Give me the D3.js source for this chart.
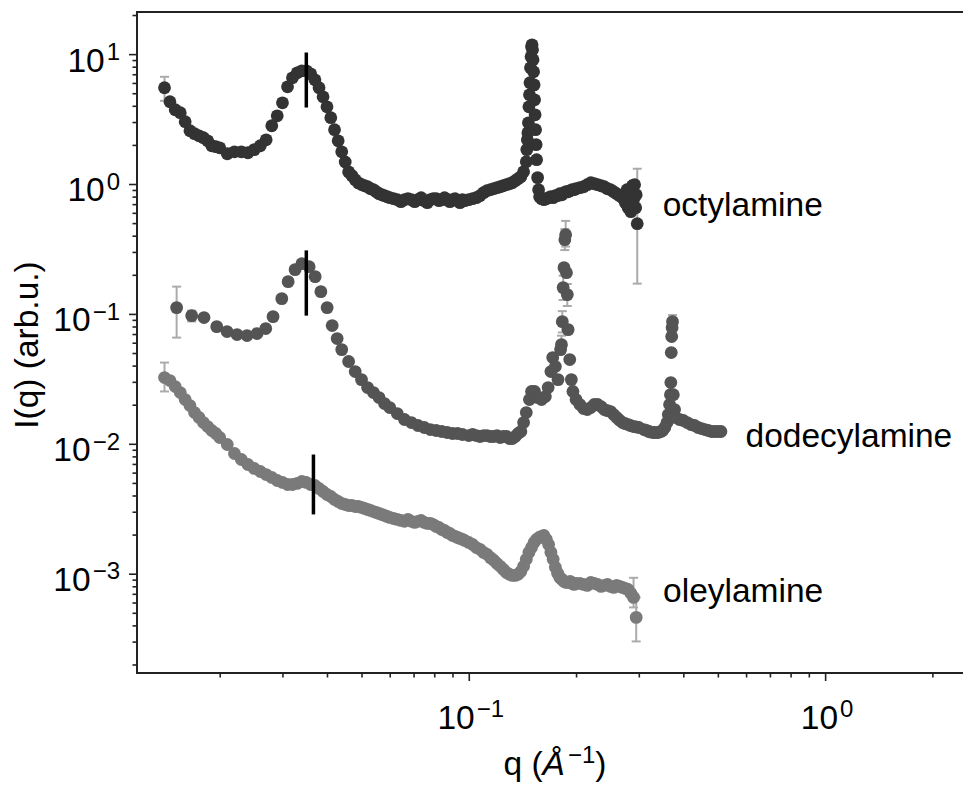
<!DOCTYPE html>
<html lang="en">
<head>
<meta charset="UTF-8">
<title>SAXS of amine-capped samples</title>
<script src="https://d3js.org/d3.v7.min.js"></script>
<style>
  body { margin: 0; background: #fff; }
  svg { display: block; font-family: "Liberation Sans", Arial, sans-serif; }
</style>
</head>
<body>
<div id="chart"></div>
<script>
// ---- data ----
const qOct = [0.014, 0.0145, 0.015, 0.0155, 0.016, 0.0165, 0.017, 0.0175, 0.018, 0.0185, 0.019, 0.0195, 0.020,
  0.021, 0.022, 0.023, 0.024, 0.025, 0.026, 0.027, 0.028, 0.029, 0.030, 0.031, 0.032, 0.033, 0.034, 0.035, 0.036,
  0.037, 0.038, 0.039, 0.040,
  0.041, 0.042, 0.043, 0.044, 0.045, 0.046, 0.047, 0.048, 0.049, 0.050, 0.051, 0.052, 0.053, 0.054, 0.055, 0.056,
  0.057, 0.058, 0.059, 0.060,
  0.0615, 0.063, 0.0645, 0.066, 0.0675, 0.069, 0.0705, 0.072, 0.0735, 0.075, 0.0765, 0.078, 0.0795, 0.081, 0.0825,
  0.084, 0.0855, 0.087, 0.0885, 0.090, 0.0915, 0.093, 0.0945, 0.096, 0.0975,
  0.100, 0.1025, 0.105, 0.1075, 0.110, 0.1125, 0.115, 0.1175, 0.120, 0.1225, 0.125, 0.1275, 0.130, 0.1325, 0.135,
  0.1375, 0.140, 0.1425, 0.145,
  0.1455, 0.146, 0.1465, 0.147, 0.1475, 0.148, 0.1485, 0.149, 0.1495, 0.150, 0.1505, 0.151, 0.1515, 0.152, 0.1525,
  0.153, 0.1535, 0.154, 0.1545, 0.155, 0.156, 0.157, 0.158,
  0.160, 0.1625, 0.165, 0.1675, 0.170, 0.1725, 0.175, 0.1775, 0.180, 0.1825, 0.185, 0.1875, 0.190, 0.1925, 0.195,
  0.1975, 0.200,
  0.205, 0.210, 0.215, 0.220, 0.225, 0.230, 0.235, 0.240, 0.245, 0.250, 0.255, 0.260, 0.265, 0.270, 0.275, 0.278,
  0.280, 0.283, 0.285, 0.288, 0.290, 0.292, 0.294, 0.295, 0.297];
const iOct = [5.51, 4.30, 3.73, 3.54, 3.02, 2.57, 2.44, 2.35, 2.27, 2.15, 1.97, 1.94, 1.90,
  1.71, 1.77, 1.77, 1.74, 1.84, 1.97, 2.19, 2.81, 3.35, 4.22, 5.60, 6.57, 7.18, 7.44, 7.44, 7.05,
  6.34, 5.51, 4.69, 3.93,
  3.24, 2.62, 2.15, 1.77, 1.48, 1.24, 1.16, 1.08, 1.02, 0.99, 0.970, 0.953, 0.920, 0.904, 0.872, 0.842,
  0.827, 0.813, 0.799, 0.785,
  0.771, 0.757, 0.731, 0.757, 0.771, 0.757, 0.731, 0.757, 0.785, 0.744, 0.718, 0.757, 0.771, 0.771, 0.744,
  0.757, 0.785, 0.757, 0.731, 0.757, 0.771, 0.744, 0.718, 0.757, 0.744,
  0.757, 0.771, 0.785, 0.813, 0.857, 0.888, 0.904, 0.920, 0.937, 0.953, 0.970, 0.988, 1.005, 1.023, 1.060,
  1.098, 1.138, 1.243, 1.484,
  1.84, 2.19, 2.48, 2.96, 3.93, 4.86, 6.02, 7.85, 9.53, 11.38, 11.79, 10.79, 9.04, 7.31, 5.80,
  4.45, 3.41, 2.62, 2.01, 1.54, 1.12, 0.904, 0.799,
  0.771, 0.757, 0.771, 0.785, 0.799, 0.785, 0.813, 0.813, 0.842, 0.827, 0.857, 0.872, 0.872, 0.888, 0.904,
  0.904, 0.920,
  0.937, 0.953, 0.988, 1.023, 1.005, 0.988, 0.970, 0.953, 0.920, 0.904, 0.872, 0.842, 0.813, 0.785, 0.718, 0.904,
  0.657, 0.813, 0.612, 0.970, 0.757, 0.988, 0.657, 0.827, 0.495];

const qDod = [0.01514, 0.01669, 0.01807, 0.01962, 0.02097, 0.02237, 0.02386, 0.02546, 0.02693, 0.02823,
  0.02987, 0.03112, 0.03255, 0.0340, 0.03565, 0.03706, 0.03845, 0.04004, 0.04137, 0.04272,
  0.044, 0.046, 0.048, 0.050, 0.052, 0.054, 0.056, 0.058, 0.060,
  0.063, 0.066, 0.069, 0.072, 0.075, 0.078, 0.081, 0.084, 0.087, 0.090, 0.093, 0.096,
  0.100, 0.1025, 0.105, 0.1075, 0.110, 0.1125, 0.115, 0.1175, 0.120, 0.1225, 0.125, 0.1275, 0.130, 0.1325, 0.135,
  0.1375, 0.140, 0.1425, 0.145,
  0.148, 0.150, 0.153, 0.156, 0.160, 0.164, 0.167, 0.170, 0.172, 0.175, 0.178, 0.181,
  0.182, 0.183, 0.184, 0.185, 0.186, 0.187, 0.188, 0.189, 0.190, 0.192, 0.194, 0.196,
  0.200, 0.205, 0.210, 0.215, 0.220, 0.225, 0.230, 0.235, 0.240, 0.245, 0.250, 0.255, 0.260, 0.265, 0.270, 0.275,
  0.280, 0.285, 0.290, 0.295, 0.300,
  0.31, 0.315, 0.32, 0.325, 0.33, 0.335, 0.34, 0.345, 0.35, 0.355, 0.36, 0.363, 0.366, 0.368, 0.369, 0.370, 0.371,
  0.372, 0.373, 0.375, 0.378, 0.38,
  0.39, 0.40, 0.41, 0.42, 0.43, 0.44, 0.45, 0.46, 0.47, 0.48, 0.49, 0.50, 0.51];
const iDod = [0.1118, 0.0970, 0.0937, 0.0798, 0.0731, 0.0693, 0.0681, 0.0706, 0.0771, 0.0953,
  0.1311, 0.1772, 0.2192, 0.2437, 0.2311, 0.1936, 0.1484, 0.1118, 0.0813, 0.0646,
  0.0531, 0.0430, 0.0360, 0.0312, 0.0271, 0.0248, 0.0227, 0.0204, 0.0190,
  0.0171, 0.01538, 0.01458, 0.01383, 0.01335, 0.01288, 0.01266, 0.01244, 0.01222, 0.0120, 0.0120, 0.01179,
  0.01158, 0.01179, 0.01158, 0.01138, 0.01158, 0.01158, 0.01138, 0.01138, 0.01158, 0.01118, 0.01138, 0.01138, 0.01099,
  0.01099, 0.01138, 0.0120, 0.01244, 0.01458, 0.0174,
  0.0219, 0.0253, 0.0253, 0.0227, 0.0219, 0.0231, 0.0271, 0.0360, 0.0461, 0.0393, 0.0312, 0.0531,
  0.0580, 0.0872, 0.1594, 0.2271, 0.3728, 0.4074, 0.2078, 0.1408, 0.0757, 0.0445, 0.0312, 0.0253,
  0.0219, 0.02006, 0.01868, 0.01835, 0.0190, 0.0201, 0.0201, 0.01936, 0.01835, 0.0180, 0.01772, 0.0168, 0.01594,
  0.0152, 0.01458, 0.0143, 0.01407, 0.0138, 0.01358, 0.0135, 0.01335,
  0.01288, 0.0127, 0.01244, 0.0123, 0.01222, 0.0122, 0.01222, 0.0124, 0.01266, 0.01335, 0.01458, 0.0168, 0.0201,
  0.0239, 0.0296, 0.0504, 0.0669, 0.0784, 0.0872, 0.0239, 0.01835, 0.01594,
  0.01538, 0.01511, 0.01458, 0.01407, 0.01383, 0.01335, 0.01311, 0.01288, 0.01266, 0.01244, 0.01244, 0.01244, 0.01244];

const qOle = [0.014, 0.0145, 0.015, 0.0155, 0.016, 0.0165, 0.017, 0.0175, 0.018, 0.0185, 0.019, 0.0195, 0.020,
  0.021, 0.022, 0.023, 0.024, 0.025, 0.026, 0.027, 0.028, 0.029, 0.030, 0.031, 0.032, 0.033, 0.034, 0.035, 0.036,
  0.037, 0.038, 0.039, 0.040,
  0.041, 0.042, 0.043, 0.044, 0.045, 0.046, 0.047, 0.048, 0.049, 0.050, 0.051, 0.052, 0.053, 0.054, 0.055, 0.056,
  0.057, 0.058, 0.059, 0.060,
  0.0615, 0.063, 0.0645, 0.066, 0.0675, 0.069, 0.0705, 0.072, 0.0735, 0.075, 0.0765, 0.078, 0.0795, 0.081, 0.0825,
  0.084, 0.0855, 0.087, 0.0885, 0.090, 0.0915, 0.093, 0.0945, 0.096, 0.0975,
  0.100, 0.1025, 0.105, 0.1075, 0.110, 0.1125, 0.115, 0.1175, 0.120, 0.1225, 0.125, 0.1275, 0.130, 0.1325, 0.135,
  0.1375, 0.140, 0.1425, 0.145, 0.1475, 0.150, 0.1525, 0.155, 0.1575, 0.160, 0.1625, 0.165, 0.1675, 0.170, 0.1725,
  0.175, 0.1775, 0.180, 0.1825, 0.185, 0.1875, 0.190, 0.1925, 0.195, 0.1975, 0.200,
  0.205, 0.210, 0.215, 0.220, 0.225, 0.230, 0.235, 0.240, 0.245, 0.250, 0.255, 0.260, 0.265, 0.270, 0.275, 0.280,
  0.285, 0.290, 0.295];
const iOle = [0.03236, 0.03069, 0.02759, 0.0248, 0.0219, 0.0197, 0.0174, 0.01594, 0.01458, 0.01358, 0.01266, 0.0120, 0.01118,
  0.00988, 0.00842, 0.00757, 0.00693, 0.00646, 0.00612, 0.00580, 0.00551, 0.00522, 0.00504, 0.00486, 0.00486, 0.00495,
  0.00513, 0.00504, 0.00486, 0.00478, 0.00453, 0.00430, 0.00407,
  0.00393, 0.00373, 0.00360, 0.00347, 0.00341, 0.00335, 0.00335, 0.00329, 0.00329, 0.00324, 0.00318, 0.00312, 0.00307,
  0.00301, 0.00296, 0.00291, 0.00286, 0.00281, 0.00276, 0.00271,
  0.00266, 0.00262, 0.00257, 0.00253, 0.00262, 0.00253, 0.00248, 0.00253, 0.00257, 0.00248, 0.00244, 0.00244, 0.00239,
  0.00231, 0.00227, 0.00219, 0.00215, 0.00208, 0.00204, 0.00197, 0.00194, 0.00190, 0.00187, 0.00184, 0.00180,
  0.00174, 0.00168, 0.00159, 0.00154, 0.00146, 0.00141, 0.00133, 0.00127, 0.00120, 0.00114, 0.00108, 0.00102, 0.00099,
  0.00097, 0.00097, 0.00099, 0.00104, 0.00114, 0.00129, 0.00146, 0.00159, 0.00174, 0.00184, 0.00190, 0.00194, 0.00197,
  0.00184, 0.00168, 0.00146, 0.00129, 0.00112, 0.00101, 0.000937, 0.000904, 0.000873, 0.000857, 0.000857, 0.000873,
  0.000842, 0.000827, 0.000842,
  0.000842, 0.000827, 0.000813, 0.000857, 0.000842, 0.000827, 0.000799, 0.000813, 0.000827, 0.000799, 0.000785,
  0.000813, 0.000799, 0.000785, 0.000771, 0.000757, 0.000706, 0.000657, 0.000461];

// error bars: [q, low, high]
const errOct = [[0.014, 4.37, 6.69], [0.290, 0.62, 1.06], [0.297, 0.171, 1.311]];
const errDod = [[0.01514, 0.0657, 0.1622], [0.01669, 0.0875, 0.106], [0.182, 0.050, 0.068], [0.183, 0.072, 0.105],
  [0.184, 0.128, 0.197], [0.186, 0.31, 0.45], [0.187, 0.33, 0.52], [0.189, 0.115, 0.17], [0.373, 0.075, 0.098]];
const errOle = [[0.014, 0.0253, 0.0422], [0.290, 0.00055, 0.00093], [0.295, 0.000301, 0.000657]];

// vertical peak markers
const peakQ = [0.0350, 0.0350, 0.03665];
const peakLo = [3.88, 0.0970, 0.00286];
const peakHi = [10.29, 0.3084, 0.00827];

const names = ["octylamine", "dodecylamine", "oleylamine"];
const labelQ = [0.35, 0.598, 0.351];
const labelI = [0.693, 0.01158, 0.00073];
const colors = ["#333333", "#545454", "#7a7a7a"];

const yMajor = [1e-3, 1e-2, 1e-1, 1, 10];
const yExp = ["\u22123", "\u22122", "\u22121", "0", "1"];
const xMajor = [0.1, 1];
const xExp = ["\u22121", "0"];

// ---- chart ----
const width = 963, height = 786;
const svg = d3.select("#chart").append("svg")
  .attr("width", width)
  .attr("height", height);

const x = d3.scaleLog().domain([0.01172, 2.6]).range([137, 973]);
const y = d3.scaleLog().domain([1.72e-4, 21.1]).range([673, 12]);

const minorX = [], minorY = [];
[0.01, 0.1, 1].forEach(d => { for (let k = 2; k < 10; k++) { const v = k * d; if (v > x.domain()[0] && v < x.domain()[1]) minorX.push(v); } });
[1e-4, 1e-3, 1e-2, 1e-1, 1, 10].forEach(d => { for (let k = 2; k < 10; k++) { const v = k * d; if (v > y.domain()[0] && v < y.domain()[1]) minorY.push(v); } });

const series = [
  { q: qOct, i: iOct, err: errOct },
  { q: qDod, i: iDod, err: errDod },
  { q: qOle, i: iOle, err: errOle }
];

// error bars first, markers on top
series.forEach(s => {
  const g = svg.append("g").attr("stroke", "#ababab").attr("stroke-width", 2);
  s.err.forEach(e => {
    const cx = x(e[0]);
    g.append("line").attr("x1", cx).attr("x2", cx).attr("y1", y(e[1])).attr("y2", y(e[2]));
    g.append("line").attr("x1", cx - 4.5).attr("x2", cx + 4.5).attr("y1", y(e[1])).attr("y2", y(e[1]));
    g.append("line").attr("x1", cx - 4.5).attr("x2", cx + 4.5).attr("y1", y(e[2])).attr("y2", y(e[2]));
  });
});

series.forEach((s, k) => {
  svg.append("g").selectAll("circle")
    .data(s.q.map((q, j) => [q, s.i[j]]))
    .join("circle")
    .attr("cx", d => x(d[0]))
    .attr("cy", d => y(d[1]))
    .attr("r", 6.4)
    .attr("fill", colors[k]);
});

// peak position bars
svg.append("g").selectAll("line")
  .data(peakQ)
  .join("line")
  .attr("x1", d => x(d)).attr("x2", d => x(d))
  .attr("y1", (d, j) => y(peakHi[j]))
  .attr("y2", (d, j) => y(peakLo[j]))
  .attr("stroke", "#000")
  .attr("stroke-width", 3.5);

// series labels
svg.append("g").selectAll("text")
  .data(names)
  .join("text")
  .attr("x", (d, j) => x(labelQ[j]))
  .attr("y", (d, j) => y(labelI[j]) + 11)
  .attr("font-size", 33.5)
  .attr("fill", "#000")
  .text(d => d);

// axes
const axY = svg.append("g").attr("transform", "translate(137,0)");
axY.call(d3.axisLeft(y).tickValues(yMajor).tickSize(8).tickFormat(() => ""));
axY.call(g => g.select(".domain").remove());
const axYm = svg.append("g").attr("transform", "translate(137,0)");
axYm.call(d3.axisLeft(y).tickValues(minorY).tickSize(4.5).tickFormat(() => ""));
axYm.call(g => g.select(".domain").remove());

const axX = svg.append("g").attr("transform", "translate(0,673)");
axX.call(d3.axisBottom(x).tickValues(xMajor).tickSize(8).tickFormat(() => ""));
axX.call(g => g.select(".domain").remove());
const axXm = svg.append("g").attr("transform", "translate(0,673)");
axXm.call(d3.axisBottom(x).tickValues(minorX).tickSize(4.5).tickFormat(() => ""));
axXm.call(g => g.select(".domain").remove());

svg.selectAll(".tick line").attr("stroke", "#222").attr("stroke-width", 1.6);

// frame (right side lies past the window)
svg.append("path")
  .attr("d", `M${x.range()[1]},${y.range()[1]}H${x.range()[0]}V${y.range()[0]}H${x.range()[1]}`)
  .attr("fill", "none")
  .attr("stroke", "#222")
  .attr("stroke-width", 2);

// tick labels as 10^n
const yl = svg.append("g").selectAll("text")
  .data(yMajor)
  .join("text")
  .attr("x", 120)
  .attr("y", d => y(d) + 17.4)
  .attr("text-anchor", "end")
  .attr("font-size", 33.5);
yl.append("tspan").text("10");
yl.append("tspan").attr("dx", 2).attr("dy", -11.7).attr("font-size", 24).text((d, j) => yExp[j]);

const xl = svg.append("g").selectAll("text")
  .data(xMajor)
  .join("text")
  .attr("x", d => x(d) + 2)
  .attr("y", 729)
  .attr("text-anchor", "middle")
  .attr("font-size", 33.5);
xl.append("tspan").text("10");
xl.append("tspan").attr("dx", 2).attr("dy", -11.7).attr("font-size", 24).text((d, j) => xExp[j]);

// axis titles
const xt = svg.append("text")
  .attr("x", 555)
  .attr("y", 775)
  .attr("text-anchor", "middle")
  .attr("font-size", 33.5);
xt.append("tspan").text("q (");
xt.append("tspan").attr("font-style", "italic").text("\u00c5");
xt.append("tspan").attr("dx", 3).attr("dy", -12).attr("font-size", 24).text("\u22121");
xt.append("tspan").attr("dy", 12).text(")");

svg.append("text")
  .attr("transform", "translate(38,345) rotate(-90)")
  .attr("text-anchor", "middle")
  .attr("font-size", 33.5)
  .text("I(q) (arb.u.)");
</script>
</body>
</html>
